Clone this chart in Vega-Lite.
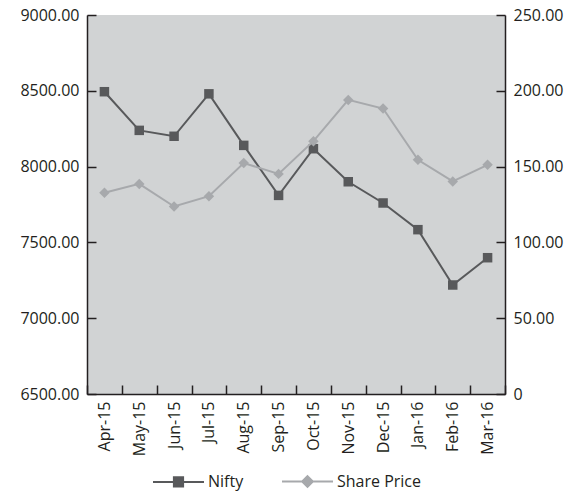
{
  "$schema": "https://vega.github.io/schema/vega-lite/v6.json",
  "width": 418,
  "height": 379,
  "autosize": {"type": "none"},
  "padding": {"left": 87, "top": 15, "right": 69, "bottom": 98},
  "background": "white",
  "config": {
    "view": {"fill": "#d1d3d4", "stroke": null},
    "font": "Open Sans",
    "axis": {
      "labelFont": "Open Sans",
      "labelFontSize": 16,
      "labelColor": "#231f20",
      "domainColor": "#231f20",
      "domainWidth": 1.5,
      "tickColor": "#231f20",
      "tickWidth": 1.5,
      "tickSize": -9,
      "labelPadding": 17,
      "grid": false,
      "title": null
    },
    "legend": {
      "labelFont": "Open Sans",
      "labelFontSize": 16,
      "labelColor": "#231f20"
    }
  },
  "data": {
    "values": [
      {"month": "Apr-15", "series": "Nifty", "value": 8494},
      {"month": "May-15", "series": "Nifty", "value": 8239},
      {"month": "Jun-15", "series": "Nifty", "value": 8200},
      {"month": "Jul-15", "series": "Nifty", "value": 8480},
      {"month": "Aug-15", "series": "Nifty", "value": 8140},
      {"month": "Sep-15", "series": "Nifty", "value": 7810},
      {"month": "Oct-15", "series": "Nifty", "value": 8118},
      {"month": "Nov-15", "series": "Nifty", "value": 7900},
      {"month": "Dec-15", "series": "Nifty", "value": 7760},
      {"month": "Jan-16", "series": "Nifty", "value": 7584},
      {"month": "Feb-16", "series": "Nifty", "value": 7219},
      {"month": "Mar-16", "series": "Nifty", "value": 7399},
      {"month": "Apr-15", "series": "Share Price", "value": 132.8},
      {"month": "May-15", "series": "Share Price", "value": 138.6},
      {"month": "Jun-15", "series": "Share Price", "value": 123.7},
      {"month": "Jul-15", "series": "Share Price", "value": 130.5},
      {"month": "Aug-15", "series": "Share Price", "value": 152.3},
      {"month": "Sep-15", "series": "Share Price", "value": 145.2},
      {"month": "Oct-15", "series": "Share Price", "value": 166.8},
      {"month": "Nov-15", "series": "Share Price", "value": 194.0},
      {"month": "Dec-15", "series": "Share Price", "value": 188.3},
      {"month": "Jan-16", "series": "Share Price", "value": 154.5},
      {"month": "Feb-16", "series": "Share Price", "value": 140.2},
      {"month": "Mar-16", "series": "Share Price", "value": 151.2}
    ]
  },
  "encoding": {
    "x": {
      "field": "month",
      "type": "ordinal",
      "sort": ["Apr-15","May-15","Jun-15","Jul-15","Aug-15","Sep-15","Oct-15","Nov-15","Dec-15","Jan-16","Feb-16","Mar-16"],
      "scale": {"type": "band", "paddingInner": 0, "paddingOuter": 0},
      "axis": {"labelAngle": -90, "tickBand": "extent", "labelPadding": 16}
    },
    "color": {
      "field": "series",
      "type": "nominal",
      "scale": {"domain": ["Nifty", "Share Price"], "range": ["#58595b", "#a7a9ac"]},
      "legend": {
        "orient": "none",
        "direction": "horizontal",
        "legendX": 65,
        "legendY": 440,
        "title": null,
        "symbolSize": 2601,
        "symbolStrokeWidth": 2,
        "labelOffset": 3,
        "columnPadding": 34,
        "encode": {
          "symbols": {
            "update": {
              "shape": {"signal": "datum.value == 'Nifty' ? 'M-1,0H1M-0.18,-0.18H0.18V0.18H-0.18Z' : 'M-1,0H1M0,-0.21L0.21,0L0,0.21L-0.21,0Z'"},
              "fill": {"scale": "color", "field": "value"},
              "stroke": {"scale": "color", "field": "value"},
              "strokeWidth": {"value": 2},
              "opacity": {"value": 1},
              "fillOpacity": {"value": 1}
            }
          }
        }
      }
    }
  },
  "layer": [
    {
      "transform": [{"filter": "datum.series == 'Nifty'"}],
      "encoding": {
        "y": {
          "field": "value",
          "type": "quantitative",
          "scale": {"domain": [6500, 9000], "nice": false, "zero": false},
          "axis": {"orient": "left", "values": [6500, 7000, 7500, 8000, 8500, 9000], "format": ".2f", "labelPadding": 17}
        }
      },
      "layer": [
        {"mark": {"type": "line", "strokeWidth": 2}},
        {"mark": {"type": "point", "shape": "square", "filled": true, "size": 90, "opacity": 1}}
      ]
    },
    {
      "transform": [{"filter": "datum.series == 'Share Price'"}],
      "encoding": {
        "y": {
          "field": "value",
          "type": "quantitative",
          "scale": {"domain": [0, 250], "nice": false},
          "axis": {"orient": "right", "values": [0, 50, 100, 150, 200, 250], "labelExpr": "datum.value == 0 ? '0' : format(datum.value, '.2f')", "labelPadding": 17}
        }
      },
      "layer": [
        {"mark": {"type": "line", "strokeWidth": 2}},
        {"mark": {"type": "point", "shape": "diamond", "filled": true, "size": 110, "opacity": 1}}
      ]
    }
  ],
  "resolve": {"scale": {"y": "independent"}}
}
